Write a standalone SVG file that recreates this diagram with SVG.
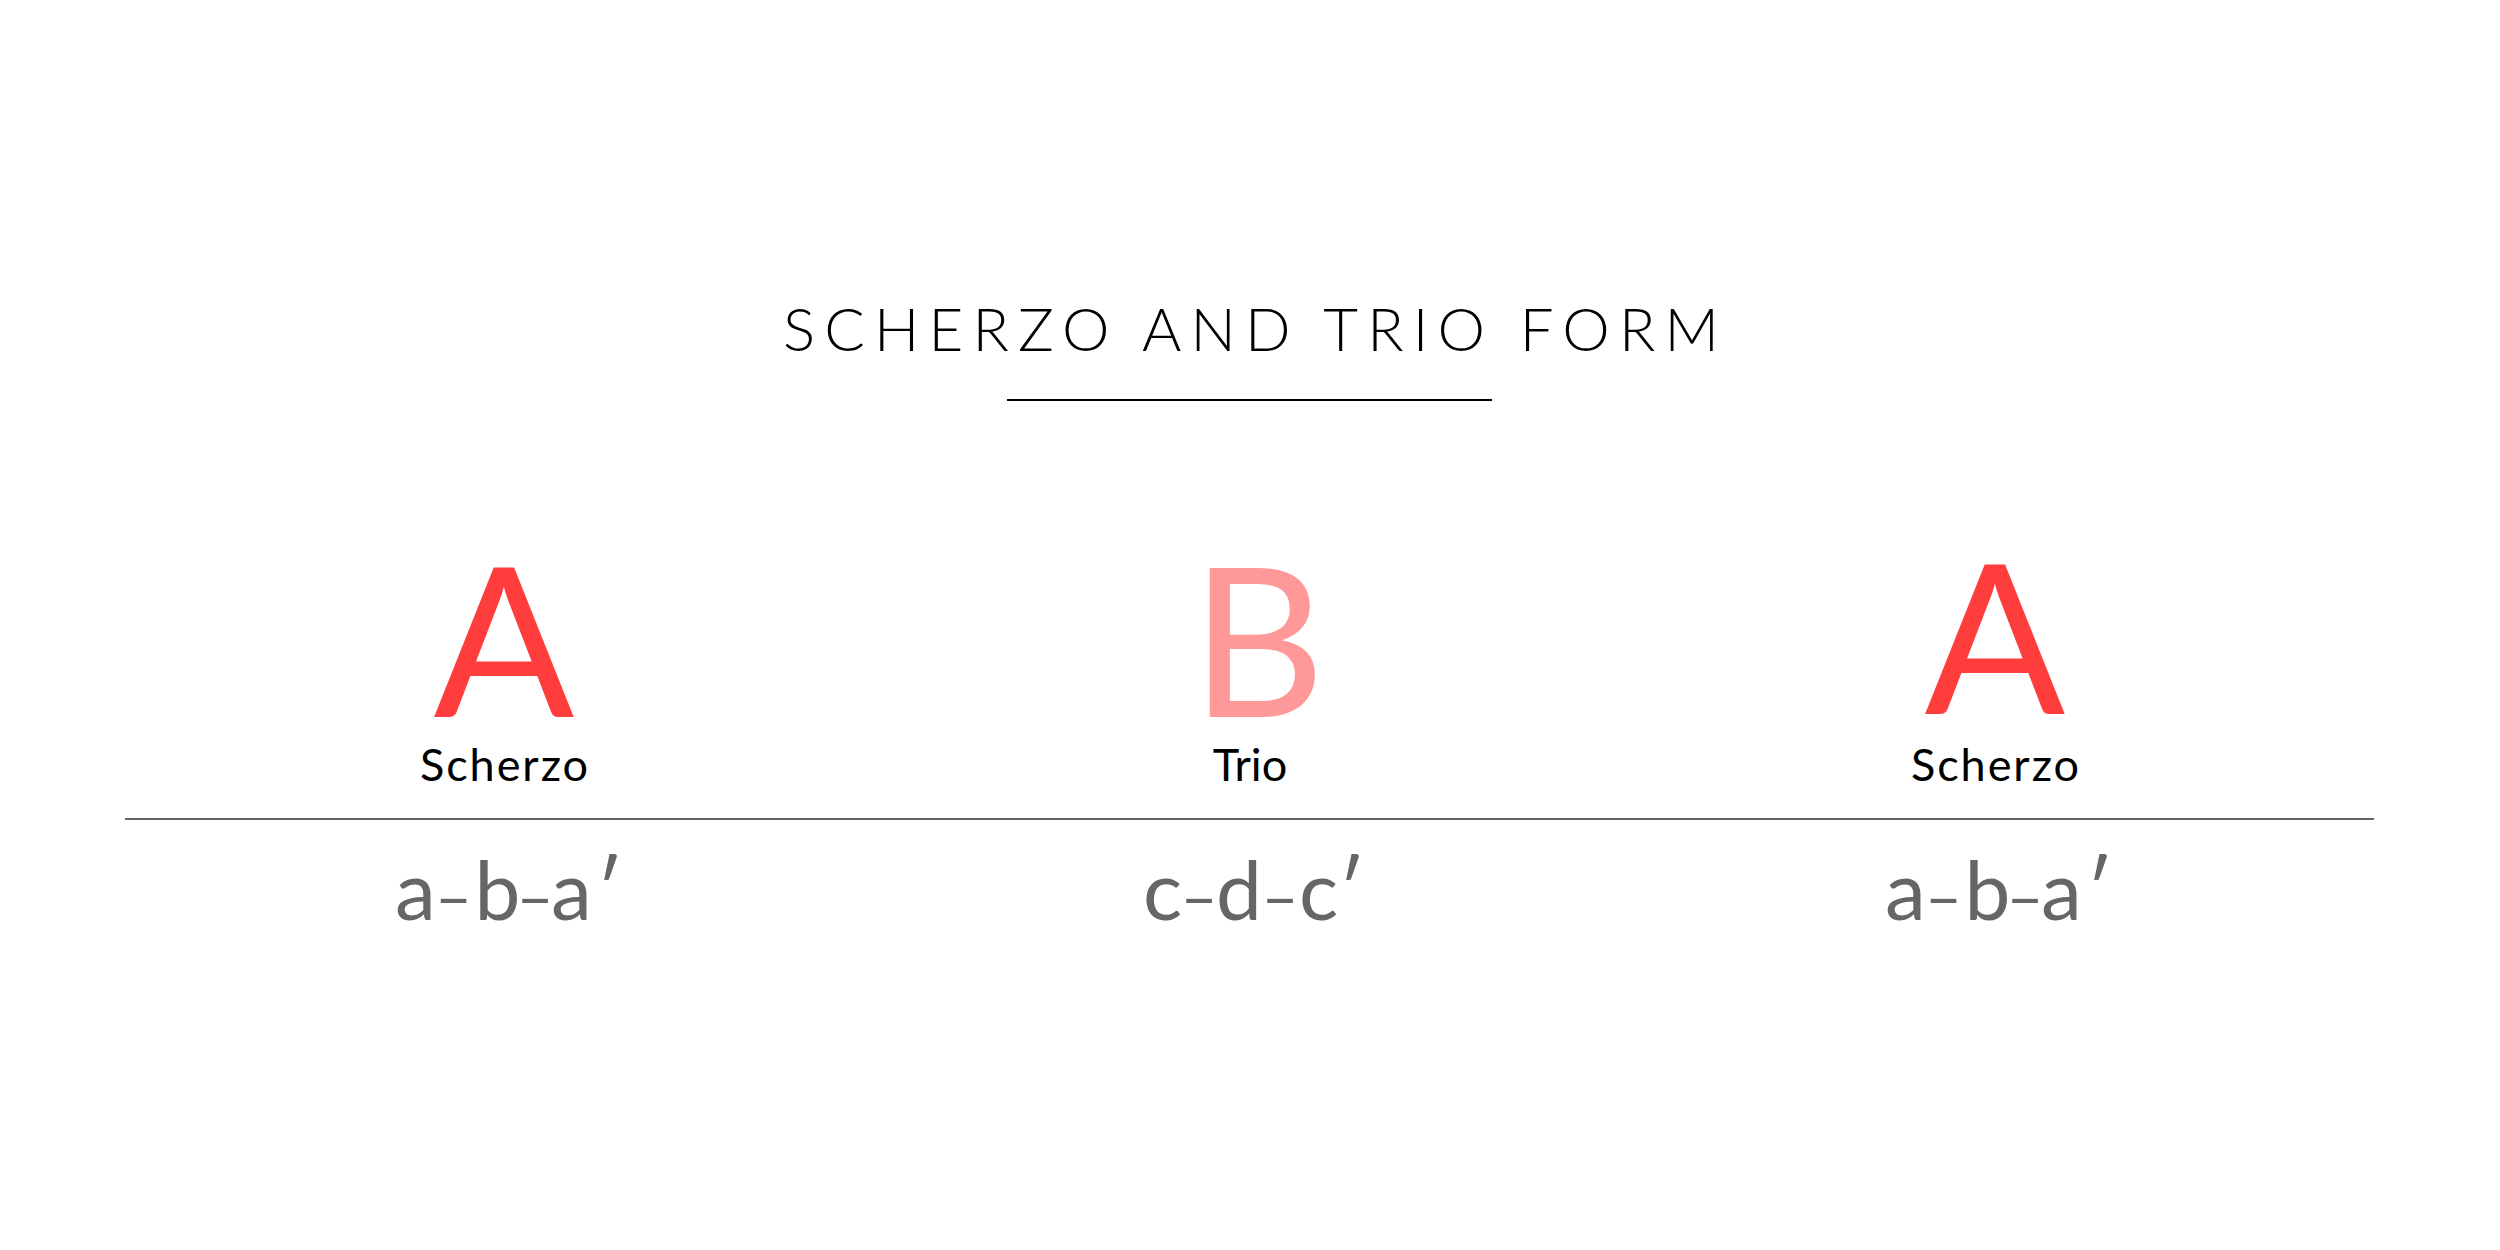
<svg xmlns="http://www.w3.org/2000/svg" width="2500" height="1250" viewBox="0 0 2500 1250">
<style>
.title{font-family:Lato,"Liberation Sans",sans-serif;font-weight:300;font-size:60px;fill:#000}
.big{font-family:Lato,"Liberation Sans",sans-serif;font-weight:400;font-size:208px;text-anchor:middle}
.a{fill:#ff3d3d}
.b{fill:#ff9999}
.name{font-family:Lato,"Liberation Sans",sans-serif;font-weight:400;font-size:45px;fill:#000;text-anchor:middle}
.form{font-family:Lato,"Liberation Sans",sans-serif;font-weight:400;font-size:82px;fill:#666;text-anchor:middle}
.dash{font-size:64px}
</style>
<rect width="2500" height="1250" fill="#fff"/>
<g id="title">
<text class="title" x="783" y="351" textLength="936" lengthAdjust="spacing">SCHERZO AND TRIO FORM</text>
</g>
<g id="connectors">
<line x1="1007" y1="400" x2="1492" y2="400" stroke="#000" stroke-width="2"/>
<line x1="125" y1="819" x2="2374" y2="819" stroke="#666" stroke-width="2"/>
</g>
<g id="node-scherzo-1">
<text class="big a" x="504" y="717">A</text>
<text class="name" x="504" y="781" textLength="168" lengthAdjust="spacing">Scherzo</text>
<text class="form" y="920"><tspan x="415.5">a</tspan><tspan class="dash" x="453.5">–</tspan><tspan x="497.5">b</tspan><tspan class="dash" x="535">–</tspan><tspan x="571.5">a</tspan><tspan x="609.5">′</tspan></text>
</g>
<g id="node-trio">
<text class="big b" x="1258" y="717">B</text>
<text class="name" x="1250" y="781">Trio</text>
<text class="form" y="920"><tspan x="1162.5">c</tspan><tspan class="dash" x="1199">–</tspan><tspan x="1239">d</tspan><tspan class="dash" x="1280">–</tspan><tspan x="1318.5">c</tspan><tspan x="1351.5">′</tspan></text>
</g>
<g id="node-scherzo-2">
<text class="big a" x="1995" y="714">A</text>
<text class="name" x="1995" y="781" textLength="168" lengthAdjust="spacing">Scherzo</text>
<text class="form" y="920"><tspan x="1905.5">a</tspan><tspan class="dash" x="1943.5">–</tspan><tspan x="1987.5">b</tspan><tspan class="dash" x="2025">–</tspan><tspan x="2061.5">a</tspan><tspan x="2099.5">′</tspan></text>
</g>
</svg>
